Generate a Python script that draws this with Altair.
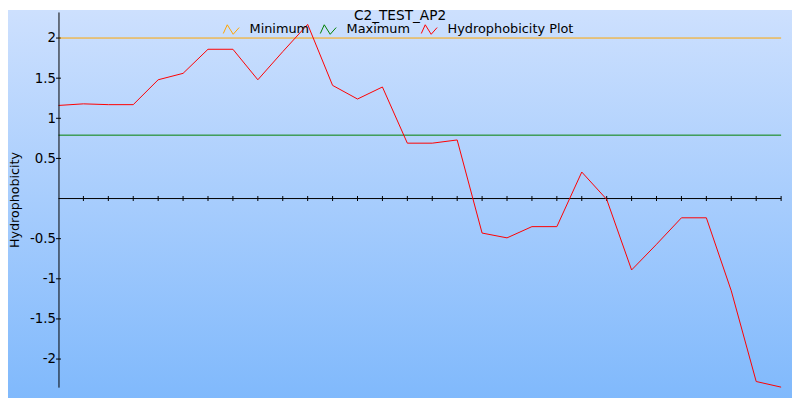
import altair as alt
import pandas as pd

# ---- data ----
title_text = "C2_TEST_AP2"
y_title = "Hydrophobicity"
series_names = ["Minimum", "Maximum", "Hydrophobicity Plot"]
series_colors = ["#ffa500", "#008000", "#ff0000"]
positions = list(range(30))
hydro = [1.16, 1.18, 1.17, 1.17, 1.48, 1.56, 1.86, 1.86, 1.48, 1.83,
         2.17, 1.41, 1.24, 1.39, 0.69, 0.69, 0.73, -0.43, -0.49, -0.35,
         -0.35, 0.33, -0.01, -0.89, -0.57, -0.24, -0.24, -1.15, -2.28, -2.35]
minimum_value = 2.0
maximum_value = 0.79
y_tick_values = [-2, -1.5, -1, -0.5, 0.5, 1, 1.5, 2]
x_tick_positions = list(range(1, 30))
x_domain = [0, 29]
y_domain = [-2.35, 2.325]

# ---- tables ----
rows = []
for p in [positions[0], positions[-1]]:
    rows.append({"series": "Minimum", "pos": p, "value": minimum_value})
for p in [positions[0], positions[-1]]:
    rows.append({"series": "Maximum", "pos": p, "value": maximum_value})
for p, v in zip(positions, hydro):
    rows.append({"series": "Hydrophobicity Plot", "pos": p, "value": v})
df = pd.DataFrame(rows)
xticks_df = pd.DataFrame({"pos": x_tick_positions, "value": [0] * len(x_tick_positions)})
yticks_df = pd.DataFrame({"value": y_tick_values, "pos": [x_domain[0]] * len(y_tick_values)})
zero_df = pd.DataFrame({"pos": [x_domain[0]], "pos_end": [x_domain[1]], "value": [0]})

W, H = 730, 379
PAD = {"left": 51, "top": 2, "right": 11, "bottom": 11}
FONT = "DejaVu Sans"

xscale = alt.Scale(domain=x_domain, nice=False, zero=False)
yscale = alt.Scale(domain=y_domain, nice=False, zero=False)

y_axis = alt.Axis(
    values=y_tick_values,
    labelExpr="'' + datum.value",
    ticks=False,
    grid=False,
    domainColor="black",
    domainWidth=1,
    labelFont=FONT,
    labelFontSize=13.5,
    labelColor="black",
    labelPadding=3,
    title=y_title,
    titleFont=FONT,
    titleFontSize=12.8,
    titleFontWeight="normal",
    titleColor="black",
    titleX=-44,
    titleY=H / 2,
    titleBaseline="middle",
    titleAlign="center",
    titleAngle=270,
    zindex=1,
)


def xenc(field):
    return alt.X(field, scale=xscale, axis=None)


def yenc(field):
    return alt.Y(field, scale=yscale, axis=y_axis, title=y_title)


gradient = alt.LinearGradient(
    gradient="linear",
    stops=[
        alt.GradientStop(color="#cde0fe", offset=0),
        alt.GradientStop(color="#80b9fc", offset=1),
    ],
    x1=0, x2=0, y1=0, y2=1,
)

background = alt.Chart(pd.DataFrame({"k": [0]})).mark_rect(color=gradient).encode(
    x=alt.value(-PAD["left"]),
    x2=alt.value(W + PAD["right"]),
    y=alt.value(-PAD["top"]),
    y2=alt.value(H + PAD["bottom"]),
)

zero_axis = alt.Chart(zero_df).mark_rule(color="black", strokeWidth=1).encode(
    x=xenc("pos:Q"),
    x2="pos_end:Q",
    y=yenc("value:Q"),
)

x_ticks = alt.Chart(xticks_df).mark_tick(
    orient="vertical", size=5, thickness=1, color="black", opacity=1
).encode(
    x=xenc("pos:Q"),
    y=yenc("value:Q"),
)

y_ticks = alt.Chart(yticks_df).mark_tick(
    orient="horizontal", size=5, thickness=1, color="black", opacity=1
).encode(
    y=yenc("value:Q"),
    x=xenc("pos:Q"),
)

zigzag = "M-1,0.5L-0.5,-0.6L0.25,0.6L1,-0.25"

lines = alt.Chart(df).mark_line(strokeWidth=1, interpolate="linear").encode(
    x=xenc("pos:Q"),
    y=yenc("value:Q"),
    color=alt.Color(
        "series:N",
        scale=alt.Scale(domain=series_names, range=series_colors),
        legend=alt.Legend(
            orient="none",
            legendX=166,
            legendY=9,
            direction="horizontal",
            title=None,
            symbolType=zigzag,
            symbolSize=256,
            symbolStrokeWidth=1,
            symbolFillColor="transparent",
            labelFont=FONT,
            labelFontSize=13,
            labelColor="black",
            labelOffset=10,
            columnPadding=8,
            padding=0,
            zindex=1,
        ),
    ),
    order=alt.Order("pos:Q"),
)

chart = alt.layer(background, zero_axis, x_ticks, y_ticks, lines).properties(
    width=W,
    height=H,
    padding=PAD,
    autosize=alt.AutoSizeParams(type="none"),
    title=alt.TitleParams(
        text=title_text,
        font=FONT,
        fontSize=13.8,
        fontWeight="normal",
        color="black",
        anchor="middle",
        frame="bounds",
        baseline="alphabetic",
        offset=-24,
        zindex=1,
    ),
).configure_view(stroke="transparent").configure_axis(zindex=1)

chart.save("out.html", embed_options={"renderer": "svg", "actions": False})
